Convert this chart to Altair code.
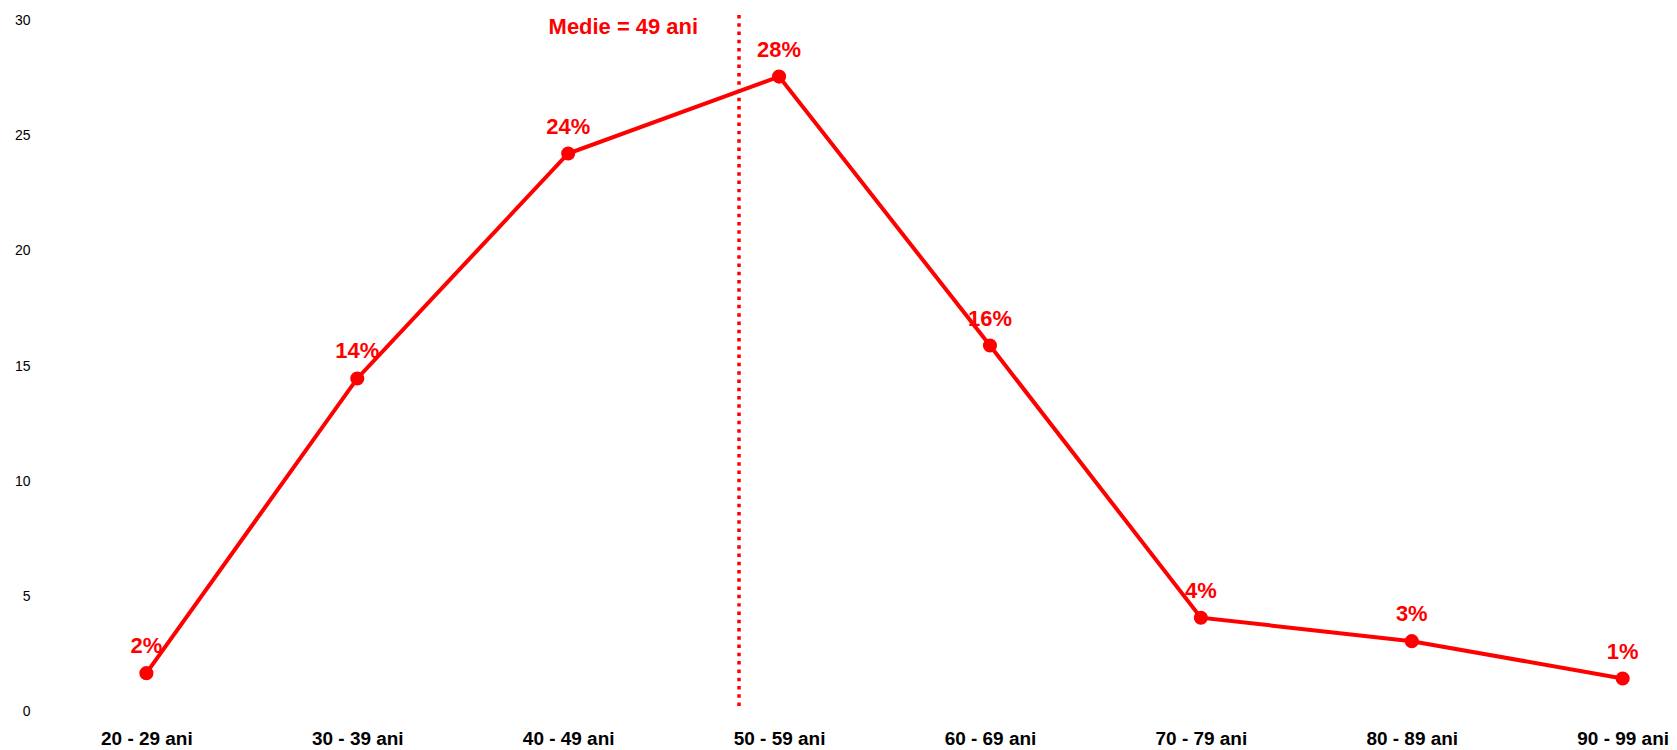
import altair as alt
import pandas as pd

# ---- data ----
categories = ["20 - 29 ani", "30 - 39 ani", "40 - 49 ani", "50 - 59 ani",
              "60 - 69 ani", "70 - 79 ani", "80 - 89 ani", "90 - 99 ani"]
values = [1.66, 14.46, 24.23, 27.57, 15.89, 4.07, 3.05, 1.43]
value_labels = ["2%", "14%", "24%", "28%", "16%", "4%", "3%", "1%"]
y_ticks = [0, 5, 10, 15, 20, 25, 30]
mean_position = 2.81          # position of the mean on the category axis
mean_rule_span = [0.15, 30.25]
mean_label = ["Medie = 49 ani"]

RED = "#ff0000"
FONT = "Liberation Sans"

df = pd.DataFrame({
    "pos": list(range(len(categories))),
    "cat": categories,
    "value": values,
    "label": value_labels,
})
mean_df = pd.DataFrame({
    "pos": [mean_position], "top": [y_ticks[-1]], "text": mean_label,
    "r0": [mean_rule_span[0]], "r1": [mean_rule_span[1]],
})

label_expr = "[" + ",".join("'" + c + "'" for c in categories) + "][datum.value]"

x_enc = alt.X(
    "pos:Q",
    scale=alt.Scale(domain=[-0.5, 7.215], nice=False, zero=False),
    axis=alt.Axis(
        values=list(range(len(categories))), labelExpr=label_expr, title=None,
        grid=False, ticks=False, domain=False, labelFontSize=19,
        labelFontWeight="bold", labelColor="black", labelPadding=18,
        labelFont=FONT, labelFlush=False, labelOverlap=False,
    ),
)
y_enc = alt.Y(
    "value:Q",
    scale=alt.Scale(domain=[0, 30], nice=False, zero=True),
    axis=alt.Axis(
        values=y_ticks, title=None, grid=False, ticks=False, domain=False,
        labelFontSize=14, labelPadding=11, labelColor="black", labelFont=FONT,
        labelOverlap=False,
    ),
)

base = alt.Chart(df)

line = base.mark_line(color=RED, strokeWidth=4).encode(x=x_enc, y=y_enc)
points = base.mark_point(filled=True, color=RED, size=200, opacity=1, shape="circle").encode(x="pos:Q", y="value:Q")
labels = base.mark_text(
    color=RED, fontSize=22, fontWeight="bold", font=FONT, dy=-20,
    baseline="alphabetic", align="center",
).encode(x="pos:Q", y="value:Q", text="label:N")

rule = alt.Chart(mean_df).mark_rule(
    color=RED, strokeWidth=3.5, strokeDash=[3.5, 4.8]
).encode(x="pos:Q", y="r1:Q", y2="r0:Q")
mean_text = alt.Chart(mean_df).mark_text(
    color=RED, fontSize=22, fontWeight="bold", font=FONT, align="right",
    baseline="alphabetic", dx=-41, dy=13,
).encode(x="pos:Q", y="top:Q", text="text:N")

chart = alt.layer(line, rule, points, labels, mean_text).properties(
    width=1630, height=692,
    padding={"left": 6, "top": 4, "right": 0, "bottom": 0},
    background="white",
).configure_view(stroke=None)

chart.save("out.html", embed_options={"renderer": "svg", "actions": False})
